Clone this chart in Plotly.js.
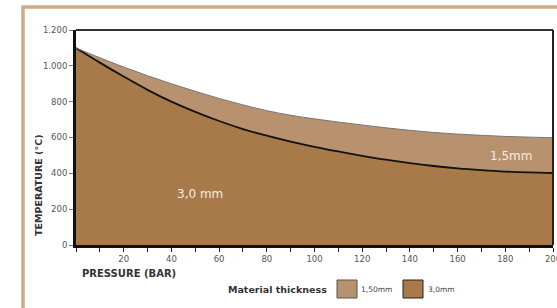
<!DOCTYPE html>
<html>
<head>
<meta charset="utf-8">
<script src="https://cdn.plot.ly/plotly-3.0.1.min.js"></script>
<style>html,body{margin:0;padding:0;background:#fff;}#chart{width:557px;height:308px;}</style>
</head>
<body>
<div id="chart"></div>
<script>
// Data
var pressure = [0,10,20,30,40,50,60,70,80,90,100,110,120,130,140,150,160,170,180,190,200];
var temp30 = [1100,1018,940,866,800,743,692,647,610,577,548,522,498,476,457,441,428,418,410,405,402];
var temp15 = [1100,1045,993,945,900,858,818,782,750,724,704,686,670,654,640,628,619,612,606,602,599];
var yTickVals = [0,200,400,600,800,1000,1200];
var yTickText = ["0","200","400","600","800","1.000","1.200"];
var xTickVals = [0,10,20,30,40,50,60,70,80,90,100,110,120,130,140,150,160,170,180,190,200];
var xTickText = ["","","20","","40","","60","","80","","100","","120","","140","","160","","180","","200"];
var seriesNames = ["1,50mm","3,0mm"];

var col30 = "#a87a4a", col15 = "#b8916f";
var W = 557, H = 308, L = 76, R = 4, T = 30, B = 63;
var pw = W - L - R, ph = H - T - B;
function fx(px){ return (px - L) / pw; }
function fy(py){ return (H - B - py) / ph; }

var traces = [
  {x: pressure, y: temp30, type: "scatter", mode: "lines", fill: "tozeroy", fillcolor: col30,
   line: {color: "#111", width: 1.8, shape: "spline", smoothing: 1}, hoverinfo: "skip", name: seriesNames[1]},
  {x: pressure, y: temp15, type: "scatter", mode: "lines", fill: "tonexty", fillcolor: col15,
   line: {color: "#777", width: 1, shape: "spline", smoothing: 1}, hoverinfo: "skip", name: seriesNames[0]}
];

var fnt = "DejaVu Sans, Verdana, sans-serif";
var layout = {
  width: W, height: H,
  margin: {l: L, r: R, t: T, b: B, pad: 0},
  paper_bgcolor: "#fff", plot_bgcolor: "#fff",
  showlegend: false,
  font: {family: fnt, color: "#444", size: 8.5},
  xaxis: {range: [0, 200], tickvals: xTickVals, ticktext: xTickText, ticks: "outside", ticklen: 4,
          tickcolor: "#222", tickwidth: 1, showgrid: false, zeroline: false, showline: true,
          linecolor: "#111", linewidth: 3, tickfont: {family: fnt, size: 8.5, color: "#555"},
          ticklabeloverflow: "allow", fixedrange: true},
  yaxis: {range: [0, 1200], tickvals: yTickVals, ticktext: yTickText, ticks: "outside", ticklen: 4,
          tickcolor: "#777", tickwidth: 1, showgrid: false, zeroline: false, showline: true,
          linecolor: "#111", linewidth: 3, tickfont: {family: fnt, size: 8.5, color: "#555"}, fixedrange: true},
  shapes: [
    // outer tan frame
    {type: "path", xref: "paper", yref: "paper",
     path: "M " + fx(590) + "," + fy(7) + " L " + fx(23) + "," + fy(7) + " L " + fx(23) + "," + fy(330),
     line: {color: "#cfab86", width: 3.5}},
    // top & right plot borders
    {type: "line", xref: "paper", yref: "paper", x0: 0, x1: 1, y0: 1, y1: 1, line: {color: "#333", width: 2}},
    {type: "line", xref: "paper", yref: "paper", x0: 1, x1: 1, y0: 0, y1: 1, line: {color: "#222", width: 2}},
    // legend swatches
    {type: "rect", xref: "paper", yref: "paper", x0: fx(337), x1: fx(357), y0: fy(298), y1: fy(280),
     fillcolor: col15, line: {color: "#555", width: 1}},
    {type: "rect", xref: "paper", yref: "paper", x0: fx(403), x1: fx(423), y0: fy(298), y1: fy(280),
     fillcolor: col30, line: {color: "#222", width: 1}}
  ],
  annotations: [
    {x: 52, y: 287, xref: "x", yref: "y", text: "3,0 mm", showarrow: false,
     font: {family: fnt, size: 12, color: "#f6ece0"}},
    {x: 182.5, y: 496, xref: "x", yref: "y", text: "1,5mm", showarrow: false,
     font: {family: fnt, size: 12, color: "#f6ece0"}},
    {x: fx(80), y: fy(273), xref: "paper", yref: "paper", xanchor: "left", yanchor: "middle",
     text: "<b>PRESSURE (BAR)</b>", showarrow: false, font: {family: fnt, size: 10, color: "#333"}},
    {x: fx(38), y: fy(185), xref: "paper", yref: "paper", xanchor: "center", yanchor: "middle",
     text: "<b>TEMPERATURE (°C)</b>", textangle: -90, showarrow: false, font: {family: fnt, size: 9.5, color: "#333"}},
    {x: fx(226), y: fy(289), xref: "paper", yref: "paper", xanchor: "left", yanchor: "middle",
     text: "<b>Material thickness</b>", showarrow: false, font: {family: fnt, size: 9.5, color: "#333"}},
    {x: fx(359), y: fy(289), xref: "paper", yref: "paper", xanchor: "left", yanchor: "middle",
     text: seriesNames[0], showarrow: false, font: {family: fnt, size: 7.5, color: "#444"}},
    {x: fx(426), y: fy(289), xref: "paper", yref: "paper", xanchor: "left", yanchor: "middle",
     text: seriesNames[1], showarrow: false, font: {family: fnt, size: 7.5, color: "#444"}}
  ]
};

Plotly.newPlot("chart", traces, layout, {displayModeBar: false, staticPlot: true});
</script>
</body>
</html>
